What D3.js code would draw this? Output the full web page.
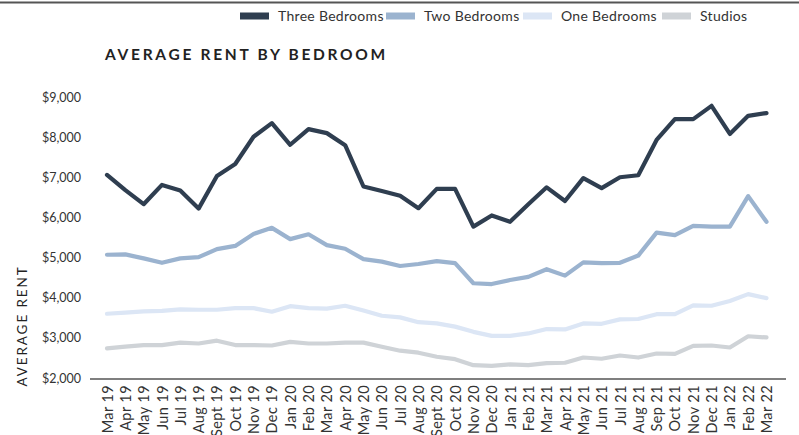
<!DOCTYPE html>
<html>
<head>
<meta charset="utf-8">
<script src="https://cdn.jsdelivr.net/npm/d3@7"></script>
<style>
  html, body { margin: 0; padding: 0; background: #fff; }
  svg { display: block; }
  text { font-family: Lato, "Open Sans", sans-serif; }
</style>
</head>
<body>
<svg id="chart" width="799" height="435"></svg>
<script>
const months = ["Mar 19","Apr 19","May 19","Jun 19","Jul 19","Aug 19","Sept 19","Oct 19","Nov 19","Dec 19",
  "Jan 20","Feb 20","Mar 20","Apr 20","May 20","Jun 20","Jul 20","Aug 20","Sept 20","Oct 20","Nov 20","Dec 20",
  "Jan 21","Feb 21","Mar 21","Apr 21","May 21","Jun 21","Jul 21","Aug 21","Sep 21","Oct 21","Nov 21","Dec 21",
  "Jan 22","Feb 22","Mar 22"];

const threeBedrooms = [7060,6680,6330,6810,6670,6220,7030,7330,8010,8350,7810,8200,8100,7800,
  6770,6660,6540,6230,6710,6710,5770,6050,5890,6330,6750,6410,6980,6730,7000,7050,7930,8450,8450,8780,8080,8530,8600];
const twoBedrooms = [5070,5080,4980,4870,4980,5010,5210,5290,5590,5740,5460,5580,5310,5220,
  4960,4900,4790,4840,4910,4860,4360,4340,4440,4520,4710,4550,4880,4860,4870,5050,5620,5560,5790,5770,5770,6530,5890];
const oneBedrooms = [3600,3630,3660,3670,3710,3700,3700,3740,3740,3650,3790,3740,3730,3800,
  3680,3550,3510,3390,3360,3280,3150,3050,3050,3110,3220,3210,3360,3350,3460,3470,3590,3590,3810,3800,3920,4090,3990];
const studios = [2740,2780,2820,2820,2880,2860,2930,2820,2820,2810,2900,2860,2860,2880,
  2880,2780,2680,2630,2530,2470,2320,2300,2340,2320,2370,2380,2510,2480,2560,2510,2610,2600,2800,2810,2760,3040,3010];

const yTicks = [2000,3000,4000,5000,6000,7000,8000,9000];

const seriesNames = ["Three Bedrooms","Two Bedrooms","One Bedrooms","Studios"];
const seriesColors = ["#2f3e50","#9bb3cf","#dce6f5","#cfd3d7"];
const seriesValues = [threeBedrooms, twoBedrooms, oneBedrooms, studios];

const svg = d3.select("#chart");

// top rule
svg.append("line").attr("x1",0).attr("x2",799).attr("y1",2.5).attr("y2",2.5)
  .attr("stroke","#555").attr("stroke-width",2);

const x = d3.scalePoint().domain(months).range([107, 766.5]);
const y = d3.scaleLinear().domain([2000, 9000]).range([378, 97]);

// legend
const legendX = [240, 386, 523, 662];
seriesNames.forEach((name, i) => {
  const g = svg.append("g").attr("transform", `translate(${legendX[i]},16)`);
  g.append("rect").attr("x",0).attr("y",-3.5).attr("width",29).attr("height",7).attr("fill",seriesColors[i]);
  g.append("text").attr("x",38).attr("y",0).attr("dy","0.35em")
    .attr("font-size",14).attr("letter-spacing",0.3).attr("fill","#333").text(name);
});

// title
svg.append("text").attr("x",105).attr("y",60)
  .attr("font-size",15.5).attr("font-weight",700).attr("letter-spacing",2.7)
  .attr("fill","#222").text("AVERAGE RENT BY BEDROOM");

// y axis labels
const yAxis = d3.axisLeft(y).tickValues(yTicks).tickSize(0).tickPadding(0)
  .tickFormat(d => "$" + d3.format(",")(d));
const gy = svg.append("g").attr("transform","translate(81,0)").call(yAxis);
gy.select(".domain").remove();
gy.selectAll("text").attr("font-size",12.5).attr("fill","#333").attr("font-family","Lato, 'Open Sans', sans-serif");

// y axis title
svg.append("text").attr("transform","translate(22,326) rotate(-90)")
  .attr("text-anchor","middle").attr("dy","0.35em")
  .attr("font-size",13.5).attr("letter-spacing",1.9).attr("fill","#222").text("AVERAGE RENT");

// lines
const line = d3.line().x((d,i) => x(months[i])).y(d => y(d)).curve(d3.curveLinear);
[3,2,1,0].forEach(i => {
  svg.append("path").datum(seriesValues[i])
    .attr("fill","none").attr("stroke",seriesColors[i])
    .attr("stroke-width",4.2).attr("stroke-linejoin","round").attr("stroke-linecap","round")
    .attr("d", line);
});

// x axis
const xAxis = d3.axisBottom(x).tickSize(0).tickPadding(0);
const gx = svg.append("g").attr("transform","translate(0,379)").call(xAxis);
gx.select(".domain").attr("d","M90,0H786").attr("stroke","#555").attr("stroke-width",1.5);
gx.selectAll("text")
  .attr("font-size",14.5).attr("fill","#333").attr("font-family","Lato, 'Open Sans', sans-serif")
  .attr("letter-spacing",0.4)
  .attr("text-anchor","end").attr("transform","rotate(-90)")
  .attr("x",-6).attr("y",0).attr("dy","0.35em");
</script>
</body>
</html>
